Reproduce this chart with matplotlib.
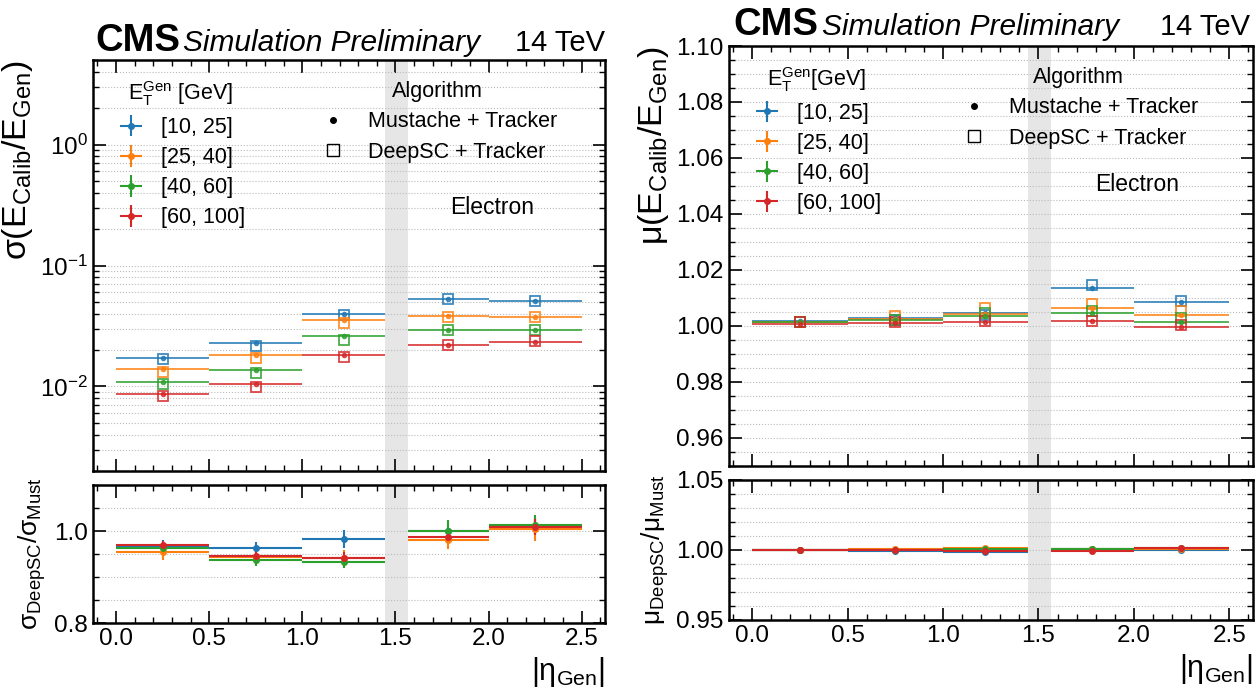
import numpy as np
import matplotlib
matplotlib.use("Agg")
import matplotlib.pyplot as plt
from matplotlib.ticker import MultipleLocator, LogLocator, NullFormatter
from matplotlib.lines import Line2D

plt.rcParams['font.family'] = ['Liberation Sans', 'DejaVu Sans']
plt.rcParams['mathtext.fontset'] = 'custom'
plt.rcParams['mathtext.rm'] = 'Liberation Sans'
plt.rcParams['mathtext.it'] = 'Liberation Sans:italic'
plt.rcParams['mathtext.bf'] = 'Liberation Sans:bold'
plt.rcParams['mathtext.default'] = 'regular'

# ---------------- data ----------------
eta_lo = [0.0, 0.5, 1.0, 1.566, 2.0]
eta_hi = [0.5, 1.0, 1.4442, 2.0, 2.5]
et_bins = ['[10, 25]', '[25, 40]', '[40, 60]', '[60, 100]']
colors = ['#1f77b4', '#ff7f0e', '#2ca02c', '#d62728']

# resolution sigma(E_calib/E_gen)
sigma_must = [
    [0.0171, 0.0227, 0.0399, 0.0530, 0.0510],
    [0.0139, 0.0182, 0.0354, 0.0382, 0.0372],
    [0.0108, 0.0138, 0.0259, 0.0293, 0.0291],
    [0.0086, 0.0104, 0.0183, 0.0220, 0.0235],
]
sigma_deepsc = [
    [0.0168, 0.0217, 0.0391, 0.0528, 0.0513],
    [0.0132, 0.0172, 0.0334, 0.0374, 0.0372],
    [0.0104, 0.0130, 0.0244, 0.0293, 0.0291],
    [0.0083, 0.0099, 0.0174, 0.0220, 0.0236],
]
sigma_ratio = [
    [0.965, 0.962, 0.983, 1.000, 1.011],
    [0.955, 0.943, 0.941, 0.980, 1.004],
    [0.963, 0.938, 0.933, 1.001, 1.013],
    [0.969, 0.945, 0.942, 0.988, 1.009],
]
sigma_ratio_err = [
    [0.015, 0.015, 0.019, 0.012, 0.018],
    [0.017, 0.014, 0.017, 0.020, 0.025],
    [0.012, 0.013, 0.013, 0.022, 0.022],
    [0.010, 0.012, 0.012, 0.015, 0.018],
]

# scale mu(E_calib/E_gen)
mu_must = [
    [1.0019, 1.0030, 1.0045, 1.0137, 1.0087],
    [1.0015, 1.0025, 1.0043, 1.0065, 1.0038],
    [1.0013, 1.0021, 1.0037, 1.0045, 1.0013],
    [1.0008, 1.0011, 1.0015, 1.0019, 0.9995],
]
mu_deepsc = [
    [1.0015, 1.0022, 1.0040, 1.0148, 1.0089],
    [1.0015, 1.0036, 1.0063, 1.0077, 1.0055],
    [1.0015, 1.0022, 1.0048, 1.0055, 1.0030],
    [1.0015, 1.0015, 1.0017, 1.0019, 1.0004],
]
mu_ratio = [
    [1.0000, 0.9995, 0.9988, 1.0005, 1.0002],
    [1.0000, 1.0007, 1.0017, 1.0005, 1.0007],
    [1.0000, 1.0000, 1.0010, 1.0010, 1.0012],
    [1.0000, 1.0003, 0.9995, 0.9995, 1.0012],
]
mu_ratio_err = [
    [0.0004, 0.0004, 0.0005, 0.0006, 0.0006],
    [0.0004, 0.0004, 0.0005, 0.0006, 0.0006],
    [0.0004, 0.0004, 0.0005, 0.0006, 0.0006],
    [0.0004, 0.0004, 0.0005, 0.0006, 0.0006],
]

lo = np.array(eta_lo)
hi = np.array(eta_hi)
xc = (lo + hi) / 2
xw = (hi - lo) / 2

W, H = 1258, 688
fig = plt.figure(figsize=(W / 100, H / 100), dpi=100)


def px_axes(x0, x1, y0, y1):
    return fig.add_axes([x0 / W, 1 - y1 / H, (x1 - x0) / W, (y1 - y0) / H])


def style(ax):
    ax.tick_params(which='both', direction='in', top=True, right=True, labelsize=17.5)
    ax.tick_params(which='major', length=9, width=1.2)
    ax.tick_params(which='minor', length=4.5, width=1.0)
    for s in ax.spines.values():
        s.set_linewidth(1.8)
    ax.set_xlim(-0.125, 2.625)
    ax.xaxis.set_major_locator(MultipleLocator(0.5))
    ax.xaxis.set_minor_locator(MultipleLocator(0.1))
    ax.grid(True, axis='y', which='both', linestyle=':', color='#bbbbbb', linewidth=0.8)
    ax.set_axisbelow(True)
    ax.axvspan(1.4442, 1.566, color='#e6e6e6', zorder=0.5, lw=0)


def draw_panel(ax, ax_r, must, deep, ratio, ratio_err):
    style(ax)
    style(ax_r)
    handles = []
    for i in range(4):
        ax.errorbar(xc, must[i], xerr=xw, fmt='o', ms=3, color=colors[i], lw=1.4, alpha=0.8)
        ax.plot(xc, deep[i], 's', ms=6.5, mfc='none', mec=colors[i], mew=1.3, alpha=0.85)
        h = ax_r.errorbar(xc, ratio[i], xerr=xw, yerr=ratio_err[i], fmt='o', ms=4,
                          color=colors[i], lw=1.5)
        handles.append(h)
    ax.tick_params(labelbottom=False)
    return handles


# ---------------- left: resolution ----------------
axL = px_axes(92.7, 605, 60, 471)
axLr = px_axes(92.7, 605, 485, 623)
hL = draw_panel(axL, axLr, sigma_must, sigma_deepsc, sigma_ratio, sigma_ratio_err)
axL.set_yscale('log')
axL.set_ylim(2e-3, 5)
axL.yaxis.set_major_locator(LogLocator(base=10, numticks=10))
axL.yaxis.set_minor_locator(LogLocator(base=10, subs=np.arange(2, 10), numticks=20))
axL.yaxis.set_minor_formatter(NullFormatter())
axL.set_ylabel(r'$\sigma(E_{Calib}/E_{Gen})$', fontsize=24.5, loc='top')
axLr.set_ylim(0.8, 1.1)
axLr.yaxis.set_major_locator(MultipleLocator(0.2))
axLr.yaxis.set_minor_locator(MultipleLocator(0.05))
axLr.set_ylabel(r'$\sigma_{DeepSC}/\sigma_{Must}$', fontsize=19)
axLr.set_xlabel(r'$|\eta_{Gen}|$', fontsize=22, loc='right')

# ---------------- right: scale ----------------
axR = px_axes(728.5, 1253, 46, 466)
axRr = px_axes(728.5, 1253, 480, 620)
hR = draw_panel(axR, axRr, mu_must, mu_deepsc, mu_ratio, mu_ratio_err)
axR.set_ylim(0.95, 1.10)
axR.yaxis.set_major_locator(MultipleLocator(0.02))
axR.yaxis.set_minor_locator(MultipleLocator(0.005))
axR.set_ylabel(r'$\mu(E_{Calib}/E_{Gen})$', fontsize=24.5, loc='top')
axRr.set_ylim(0.95, 1.05)
axRr.yaxis.set_major_locator(MultipleLocator(0.05))
axRr.yaxis.set_minor_locator(MultipleLocator(0.01))
axRr.set_ylabel(r'$\mu_{DeepSC}/\mu_{Must}$', fontsize=19)
axRr.set_xlabel(r'$|\eta_{Gen}|$', fontsize=22, loc='right')

algo_handles = [
    Line2D([], [], marker='o', ms=4, color='black', ls='none'),
    Line2D([], [], marker='s', ms=8, mfc='none', mec='black', mew=1.0, ls='none'),
]
algo_labels = ['Mustache + Tracker', 'DeepSC + Tracker']

for ax, hs, et_title, et_anchor, al_anchor, el_xy in [
        (axL, hL, r'$E_T^{Gen}$ [GeV]', (0.045, 0.953), (0.44, 0.95), (0.78, 0.64)),
        (axR, hR, r'$E_T^{Gen}$[GeV]', (0.045, 0.955), (0.44, 0.951), (0.78, 0.67))]:
    leg1 = ax.legend(hs, et_bins, title=et_title, loc='upper left',
                     bbox_to_anchor=et_anchor, frameon=False, fontsize=15.5,
                     title_fontsize=15.5, borderpad=0, borderaxespad=0,
                     labelspacing=0.42, handlelength=1.4, handletextpad=0.7)
    ax.add_artist(leg1)
    ax.legend(algo_handles, algo_labels, title='Algorithm', loc='upper left',
              bbox_to_anchor=al_anchor, frameon=False, fontsize=15.5,
              title_fontsize=15.5, borderpad=0, borderaxespad=0,
              labelspacing=0.45, handlelength=1.4, handletextpad=0.9)
    ax.text(el_xy[0], el_xy[1], 'Electron', transform=ax.transAxes, fontsize=16.5,
            ha='center', va='center')

# CMS labels
for x_cms, x_sim, x_tev, y_base in [(95, 183, 605, 51), (733, 822, 1250, 35)]:
    fig.text(x_cms / W, 1 - y_base / H, 'CMS', fontsize=27.5, fontweight='bold', va='baseline')
    fig.text(x_sim / W, 1 - y_base / H, 'Simulation Preliminary', fontsize=21.5,
             style='italic', va='baseline')
    fig.text(x_tev / W, 1 - y_base / H, '14 TeV', fontsize=21, ha='right', va='baseline')

fig.savefig('out.png', dpi=100)
